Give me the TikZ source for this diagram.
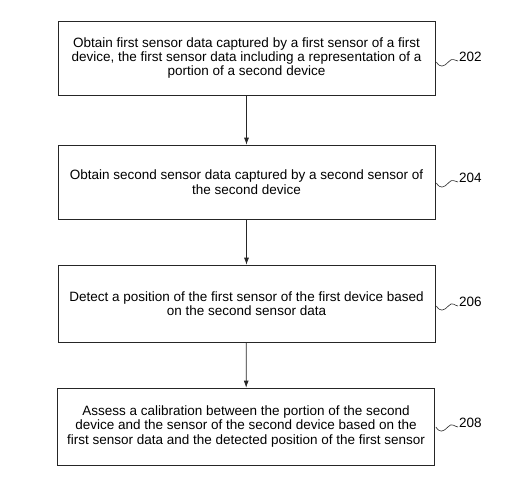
\documentclass[tikz,border=0pt]{standalone}
\usepackage{fontspec}
\setmainfont{Liberation Sans}
\usetikzlibrary{arrows.meta}
\begin{document}
\begin{tikzpicture}[x=1pt,y=-1pt,
  stepbox/.style={draw=black!85,line width=0.7pt,minimum width=377pt,inner sep=0pt,align=center,
    font=\fontsize{13.5pt}{14.4pt}\selectfont},
  flow/.style={draw=black!85,line width=0.7pt,-{Latex[length=7pt,width=5pt]}},
  reflabel/.style={font=\fontsize{13.5pt}{14pt}\selectfont,anchor=west,inner sep=0pt},
  squig/.style={draw=black!85,line width=0.6pt}]
\useasboundingbox (0,0) rectangle (529,487);
\node[stepbox,minimum height=74pt] (b1) at (246.5,58) {Obtain first sensor data captured by a first sensor of a first\\device, the first sensor data including a representation of a\\portion of a second device};
\node[stepbox,minimum height=74pt] (b2) at (246.5,182) {Obtain second sensor data captured by a second sensor of\\the second device};
\node[stepbox,minimum height=77pt] (b3) at (246.5,303.5) {Detect a position of the first sensor of the first device based\\on the second sensor data};
\node[stepbox,minimum height=77pt] (b4) at (246,426.5) {Assess a calibration between the portion of the second\\device and the sensor of the second device based on the\\first sensor data and the detected position of the first sensor};
\draw[flow] (b1) -- (b2);
\draw[flow] (b2) -- (b3);
\draw[flow] (b3) -- (b4);
\node[reflabel] (l1) at (459,57) {202};
\node[reflabel] (l2) at (459,178) {204};
\node[reflabel] (l3) at (459,302) {206};
\node[reflabel] (l4) at (459,423) {208};
\coordinate (s1) at (b1.east |- 0,62);
\coordinate (s2) at (b2.east |- 0,183);
\coordinate (s3) at (b3.east |- 0,306);
\coordinate (s4) at (b4.east |- 0,427);
\foreach \s/\l in {s1/l1,s2/l2,s3/l3,s4/l4}{
  \draw[squig] ([xshift=1pt]\s) .. controls +(4,6) and +(-5,5) .. ([xshift=13pt,yshift=0pt]\s)
    .. controls +(4,-5) and +(-3,0) .. ([xshift=-1pt,yshift=-4pt]\l.west);
}
\end{tikzpicture}
\end{document}
